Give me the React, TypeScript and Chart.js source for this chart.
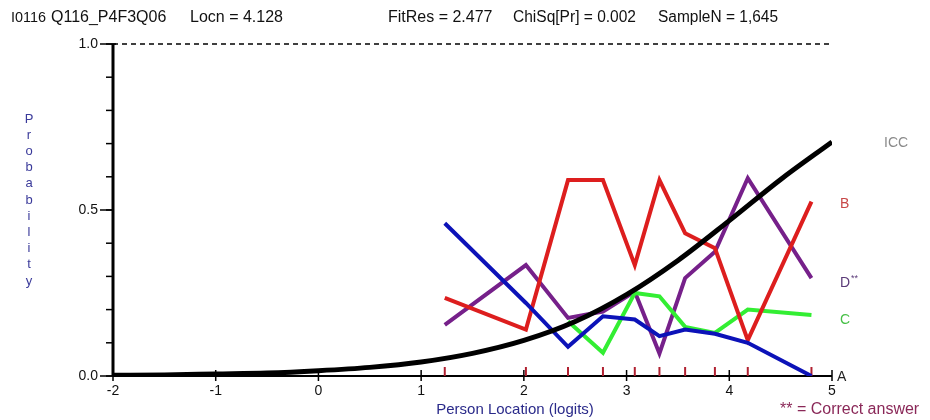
import React, { useEffect, useRef } from "react";
import { Chart, registerables } from "chart.js";

Chart.register(...registerables);

// Class interval mean locations (logits)
const classIntervals = [1.23, 2.02, 2.43, 2.77, 3.08, 3.32, 3.57, 3.86, 4.18, 4.8];
// Observed proportions per option at each class interval
const optionA = [0.46, 0.22, 0.088, 0.18, 0.17, 0.12, 0.14, 0.127, 0.1, 0.0];
const optionB = [0.235, 0.14, 0.59, 0.59, 0.334, 0.59, 0.43, 0.385, 0.108, 0.525];
const optionC = [null, null, 0.165, 0.07, 0.25, 0.24, 0.148, 0.13, 0.2, 0.184];
const optionD = [0.154, 0.334, 0.175, 0.194, 0.254, 0.068, 0.295, 0.374, 0.596, 0.295];
// Item characteristic curve
const iccX = [-2, -1.5, -1, -0.5, 0, 0.5, 1, 1.5, 2, 2.5, 3, 3.5, 4, 4.5, 5];
const iccY = [0.002, 0.003, 0.006, 0.009, 0.016, 0.026, 0.042, 0.068, 0.107, 0.164, 0.245, 0.348, 0.468, 0.592, 0.705];
// Axis ticks
const xTicks = [-2, -1, 0, 1, 2, 3, 4, 5];
const yMinorTicks = [0, 0.1, 0.2, 0.3, 0.4, 0.5, 0.6, 0.7, 0.8, 0.9, 1.0];
const yMajorTicks = [0, 0.5, 1.0];
const yTickLabels = ["0.0", "0.5", "1.0"];
// Header text
const headerItems = ["I0116", "Q116_P4F3Q06", "Locn = 4.128", "FitRes = 2.477", "ChiSq[Pr] = 0.002", "SampleN = 1,645"];

const toPts = (xs: number[], ys: (number | null)[]) =>
  xs.map((x, i) => ({ x, y: ys[i] })).filter((p) => p.y !== null);

const FONT = "'Liberation Sans', Arial, sans-serif";
const headerX = [11, 51, 190, 388, 513, 658];
const headerW = [35, 122, 98, 108, 123, 120];
const headerSize = [15, 16, 16, 16, 16, 16];

const decorPlugin = {
  id: "decor",
  beforeDatasetsDraw(chart: any) {
    const ctx = chart.ctx;
    const xs = chart.scales.x;
    const ys = chart.scales.y;
    const x0 = xs.getPixelForValue(-2);
    const x1 = xs.getPixelForValue(5);
    const y0 = ys.getPixelForValue(0);
    const y1 = ys.getPixelForValue(1);
    ctx.save();
    // dashed 1.0 line
    ctx.strokeStyle = "#000";
    ctx.lineWidth = 1.5;
    ctx.setLineDash([5, 4]);
    ctx.beginPath();
    ctx.moveTo(x0, y1);
    ctx.lineTo(x1, y1);
    ctx.stroke();
    ctx.setLineDash([]);
    // y axis
    ctx.lineWidth = 3;
    ctx.beginPath();
    ctx.moveTo(x0, y1);
    ctx.lineTo(x0, y0);
    ctx.stroke();
    ctx.lineWidth = 1.5;
    yMinorTicks.forEach((v) => {
      const y = ys.getPixelForValue(v);
      ctx.beginPath();
      ctx.moveTo(x0 - 7, y);
      ctx.lineTo(x0, y);
      ctx.stroke();
    });
    yMajorTicks.forEach((v) => {
      const y = ys.getPixelForValue(v);
      ctx.beginPath();
      ctx.moveTo(x0 - 13, y);
      ctx.lineTo(x0 + (v === 1 ? 3 : 0), y);
      ctx.stroke();
    });
    // x axis
    ctx.lineWidth = 2;
    ctx.beginPath();
    ctx.moveTo(x0, y0);
    ctx.lineTo(x1, y0);
    ctx.stroke();
    ctx.lineWidth = 1.5;
    xTicks.forEach((v) => {
      const x = xs.getPixelForValue(v);
      ctx.beginPath();
      ctx.moveTo(x, y0 - 6);
      ctx.lineTo(x, y0 + 5);
      ctx.stroke();
    });
    // class interval markers
    ctx.strokeStyle = "#b02030";
    ctx.lineWidth = 2;
    classIntervals.forEach((v) => {
      const x = xs.getPixelForValue(v);
      ctx.beginPath();
      ctx.moveTo(x, y0 - 9);
      ctx.lineTo(x, y0);
      ctx.stroke();
    });
    ctx.restore();
  },
  afterDraw(chart: any) {
    const ctx = chart.ctx;
    const xs = chart.scales.x;
    const ys = chart.scales.y;
    const x0 = xs.getPixelForValue(-2);
    ctx.save();
    ctx.textBaseline = "middle";
    ctx.fillStyle = "#111";
    ctx.textAlign = "left";
    // header
    headerItems.forEach((t, i) => {
      ctx.font = `${headerSize[i]}px ${FONT}`;
      ctx.fillText(t, headerX[i], 18, headerW[i]);
    });
    // y tick labels
    ctx.font = `14px ${FONT}`;
    ctx.textAlign = "right";
    yMajorTicks.forEach((v, i) => {
      ctx.fillText(yTickLabels[i], x0 - 15, ys.getPixelForValue(v));
    });
    // x tick labels
    ctx.textAlign = "center";
    xTicks.forEach((v) => {
      ctx.fillText(String(v), xs.getPixelForValue(v), 391);
    });
    // axis titles
    ctx.fillStyle = "#2a2a8a";
    ctx.font = `15px ${FONT}`;
    ctx.fillText("Person Location (logits)", 515, 410);
    const letters = "Probability".split("");
    ctx.fillStyle = "#3a3a9a";
    ctx.font = `13px ${FONT}`;
    letters.forEach((c, i) => {
      ctx.fillText(c, 29, 119 + i * 16.2);
    });
    ctx.textAlign = "left";
    ctx.font = `16px ${FONT}`;
    ctx.fillStyle = "#8a2858";
    ctx.fillText("** = Correct answer", 780, 410);
    // option labels
    ctx.font = `14px ${FONT}`;
    ctx.fillStyle = "#8a8a8a";
    ctx.fillText("ICC", 884, 143);
    ctx.fillStyle = "#c84848";
    ctx.fillText("B", 840, 204);
    ctx.fillStyle = "#5a3a78";
    ctx.fillText("D", 840, 283);
    ctx.font = `9px ${FONT}`;
    ctx.fillText("**", 851, 279);
    ctx.font = `14px ${FONT}`;
    ctx.fillStyle = "#48c048";
    ctx.fillText("C", 840, 320);
    ctx.fillStyle = "#222";
    ctx.fillText("A", 837, 377);
    ctx.restore();
  },
};

export default function App() {
  const ref = useRef<HTMLCanvasElement | null>(null);
  useEffect(() => {
    if (!ref.current) return;
    const chart = new Chart(ref.current, {
      type: "line",
      data: {
        datasets: [
          {
            label: "ICC",
            data: toPts(iccX, iccY),
            borderColor: "#000000",
            borderWidth: 5,
            pointRadius: 0,
            cubicInterpolationMode: "monotone",
            fill: false,
          },
          {
            label: "A",
            data: toPts(classIntervals, optionA),
            borderColor: "#0c12b8",
            borderWidth: 4,
            pointRadius: 0,
            tension: 0,
            fill: false,
          },
          {
            label: "B",
            data: toPts(classIntervals, optionB),
            borderColor: "#dd1e1e",
            borderWidth: 4,
            pointRadius: 0,
            tension: 0,
            fill: false,
          },
          {
            label: "C",
            data: toPts(classIntervals, optionC),
            borderColor: "#33ee33",
            borderWidth: 4,
            pointRadius: 0,
            tension: 0,
            fill: false,
          },
          {
            label: "D**",
            data: toPts(classIntervals, optionD),
            borderColor: "#76208a",
            borderWidth: 4,
            pointRadius: 0,
            tension: 0,
            fill: false,
          },
        ],
      },
      options: {
        animation: false,
        responsive: false,
        devicePixelRatio: 1,
        layout: { padding: { left: 113, right: 98, top: 44, bottom: 44 } },
        plugins: { legend: { display: false }, tooltip: { enabled: false }, title: { display: false } },
        scales: {
          x: { type: "linear", min: -2, max: 5, display: false },
          y: { type: "linear", min: 0, max: 1, display: false },
        },
      },
      plugins: [decorPlugin],
    } as any);
    return () => chart.destroy();
  }, []);
  return (
    <div style={{ position: "absolute", left: 0, top: 0, width: 930, height: 420, background: "#fff" }}>
      <canvas ref={ref} width={930} height={420} style={{ display: "block" }} />
    </div>
  );
}
